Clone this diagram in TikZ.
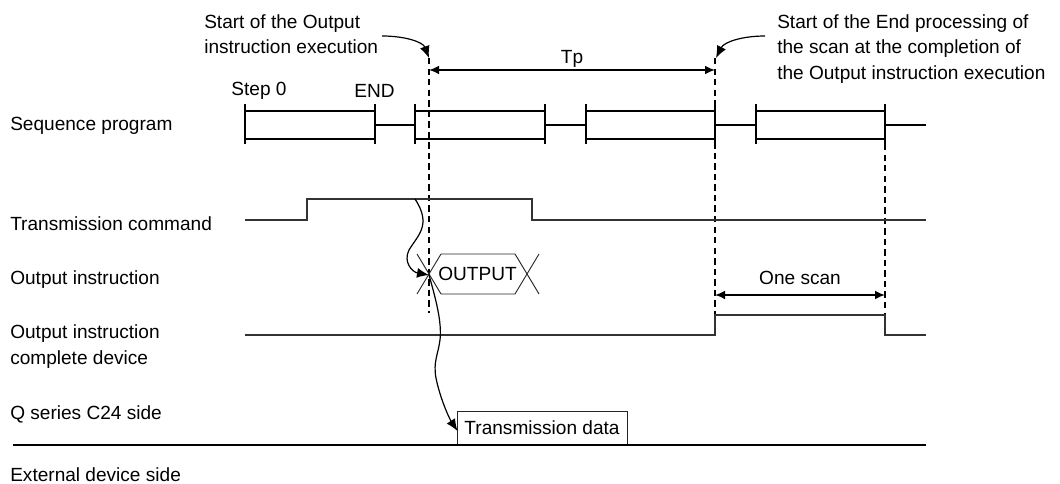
\documentclass[tikz,border=0pt]{standalone}
\usepackage{fontspec}
\setmainfont{Liberation Sans}
\usetikzlibrary{arrows.meta,positioning}
\begin{document}
\begin{tikzpicture}[
        x=0.75pt,
        y=-0.75pt,
        rowlabel/.style={
          anchor=west,
          align=left,
          inner sep=0pt,
          font=\fontsize{14.3pt}{19.4pt}\selectfont
        },
        note/.style={
          align=left,
          inner sep=0pt,
          font=\fontsize{14.3pt}{19.4pt}\selectfont
        },
        wire/.style={line width=1.15pt},
        signal/.style={line width=0.85pt, draw=black!80},
        thinwire/.style={line width=0.7pt, draw=black!85},
        guide/.style={line width=1.4pt, dash pattern=on 4.8pt off 3.1pt},
        span/.style={{Latex[length=7.5pt,width=6.5pt]}-{Latex[length=7.5pt,width=6.5pt]}, line width=1.15pt},
        lead/.style={-{Latex[length=9pt,width=7.5pt]}, line width=0.9pt}
      ]
        \useasboundingbox (0,0) rectangle (1060,484);

        % row labels
        \node[rowlabel] (lblseq) at (10,126) {Sequence program};
        \node[rowlabel] (lblcmd) at (10,224) {Transmission command};
        \node[rowlabel] (lblout) at (10,280) {Output instruction};
        \node[rowlabel] (lbldev) at (10,347) {Output instruction\\complete device};
        \node[rowlabel] (lblq) at (10,414) {Q series C24 side};
        \node[rowlabel] (lblext) at (10,474.5) {External device side};

        % sequence program
        \foreach \xa/\xb in {245/375, 415/545, 586/715, 756/885} {
          \draw[wire] (\xa,104) -- (\xa,144);
          \draw[wire] (\xb,104) -- (\xb,144);
          \draw[wire] (\xa,111) -- (\xb,111);
          \draw[wire] (\xa,139) -- (\xb,139);
        }
        \foreach \xa/\xb in {375/415, 545/586, 715/756, 885/926} {
          \draw[wire] (\xa,125) -- (\xb,125);
        }
        \node[note] (stepzero) at (259,91) {Step 0};
        \node[note] (endtext) at (374.5,91) {END};

        % guides
        \coordinate (guideatop) at (429,58);
        \coordinate (guideabot) at (429,313);
        \coordinate (guidebtop) at (715,58);
        \coordinate (guidebbot) at (715,315);
        \coordinate (guidectop) at (885,144);
        \coordinate (guidecbot) at (885,315);
        \draw[guide] (guideatop) -- (guideabot);
        \draw[guide] (guidebtop) -- (guidebbot);
        \draw[guide] (guidectop) -- (guidecbot);

        % Tp and notes
        \coordinate (tpleft) at (429,70);
        \coordinate (tpright) at (715,70);
        \draw[span] (tpleft) -- (tpright);
        \node[note] (tptext) at (572,59) {Tp};
        \node[note, anchor=north west] (startnote) at (204,14) {Start of the Output\\instruction execution};
        \node[note, anchor=north west] (endnote) at (777,14) {Start of the End processing of\\the scan at the completion of\\the Output instruction execution};
        \coordinate (startfrom) at (382,36);
        \coordinate (endfrom) at (765,36);
        \draw[lead] (startfrom) .. controls (405,36) and (423,42) .. (guideatop);
        \draw[lead] (endfrom) .. controls (742,36) and (724,42) .. (716,58);

        % transmission command
        \coordinate (cmdstart) at (245,220);
        \coordinate (cmdend) at (926,220);
        \draw[signal] (cmdstart) -- (307,220) -- (307,199) -- (532,199) -- (532,220) -- (cmdend);

        % output instruction
        \coordinate (outcross) at (429,275);
        \draw[thinwire] (417,254) -- (441,294);
        \draw[thinwire] (417,294) -- (441,254);
        \draw[thinwire] (441,254) -- (515,254) -- (539,294);
        \draw[thinwire] (441,294) -- (515,294) -- (539,254);
        \node[note] (outtext) at (477.5,274) {OUTPUT};

        % complete device
        \coordinate (devstart) at (245,335);
        \coordinate (devend) at (926,335);
        \draw[signal] (devstart) -- (715,335) -- (715,315) -- (885,315) -- (885,335) -- (devend);
        \coordinate (scanleft) at (715,295);
        \coordinate (scanright) at (885,295);
        \draw[span] (scanleft) -- (scanright);
        \node[note] (scantext) at (800,278) {One scan};

        % transmission data
        \node[draw, thinwire, minimum width=127.5pt, minimum height=24.75pt, inner sep=0pt,
          font=\fontsize{14.3pt}{19.4pt}\selectfont] (txdata) at (542,427.5) {Transmission data};
        \coordinate (txentry) at (457.5,431);
        \coordinate (basestart) at (13,445);
        \coordinate (baseend) at (926,445);
        \draw[line width=1.2pt] (basestart) -- (baseend);

        % leads through the timing
        \coordinate (cmdfall) at (415,199);
        \draw[lead] (cmdfall) .. controls (432,225) and (418,235) .. (409,250) .. controls (403,262) and (412,272) .. (outcross);
        \draw[lead] (outcross) .. controls (436,300) and (442,322) .. (440,340) .. controls (438,355) and (433,362) .. (436,378) .. controls (440,398) and (449,418) .. (txentry);
      \end{tikzpicture}
\end{document}
